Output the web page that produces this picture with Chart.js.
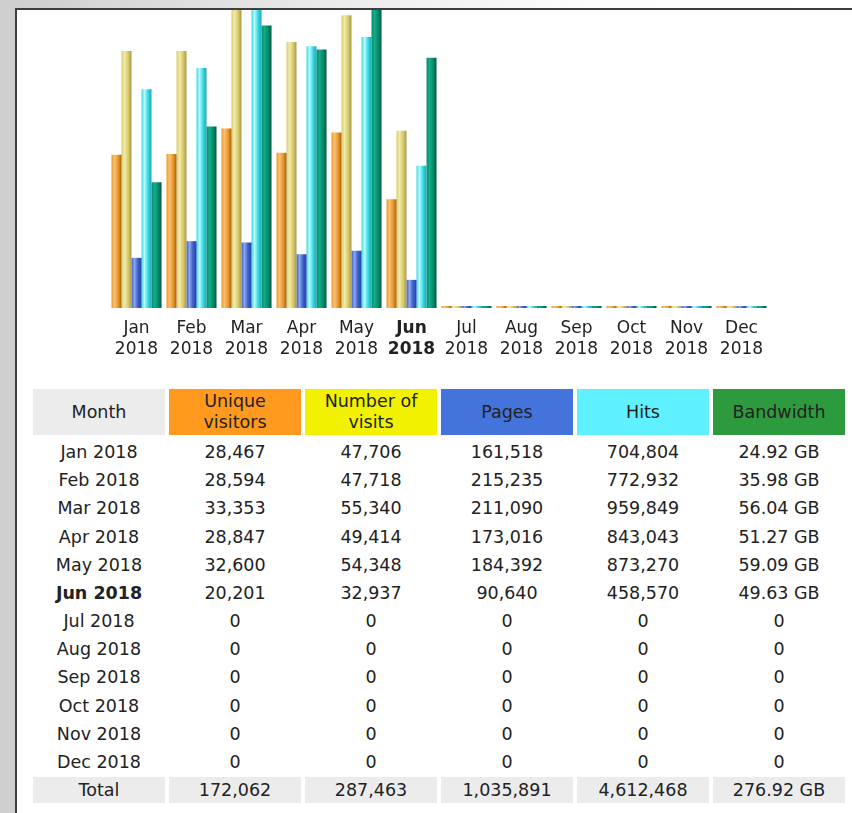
<!DOCTYPE html>
<html>
<head>
<meta charset="utf-8">
<script src="https://cdn.jsdelivr.net/npm/chart.js@4/dist/chart.umd.min.js"></script>
<style>
  html,body{margin:0;padding:0;background:#fff;}
  body{width:852px;height:813px;position:relative;overflow:hidden;font-family:'DejaVu Sans',sans-serif;}
  #topstrip{position:absolute;left:0;top:0;width:852px;height:8px;background:linear-gradient(to right,#cdcdcd,#ececec 40%,#fdfdfd 70%,#fff);}
  #leftstrip{position:absolute;left:0;top:0;width:15px;height:813px;background:#cfcfcf;}
  #frame{position:absolute;left:15px;top:8px;right:0;bottom:0;border-top:2px solid #3e3e3e;border-left:2px solid #3e3e3e;background:#fff;}
  #wrap{position:absolute;left:0;top:10px;width:852px;height:352px;}
  table{position:absolute;left:29px;top:389px;border-collapse:separate;border-spacing:4px 0;font-size:17.5px;color:#222;}
  th,td{width:132px;padding:0;text-align:center;font-weight:normal;white-space:nowrap;}
  thead th{height:46px;line-height:21px;}
  tbody td{height:28.18px;line-height:20px;}
  tr.sp td{height:3px;font-size:0;line-height:0;}
  tr.sp1 td{height:1px;font-size:0;line-height:0;}
  tr.tot td{height:26px;background:#ececec;}
</style>
</head>
<body>
<div id="topstrip"></div>
<div id="leftstrip"></div>
<div id="frame"></div>
<div id="wrap"><canvas id="chart"></canvas></div>
<table id="stats">
  <thead><tr>
    <th style="background:#ececec">Month</th>
    <th style="background:#ff9a1f">Unique<br>visitors</th>
    <th style="background:#f2f200">Number of<br>visits</th>
    <th style="background:#4473dc">Pages</th>
    <th style="background:#5ff1ff">Hits</th>
    <th style="background:#2e9a3e">Bandwidth</th>
  </tr></thead>
  <tbody id="rows"></tbody>
</table>
<script>
const months=['Jan','Feb','Mar','Apr','May','Jun','Jul','Aug','Sep','Oct','Nov','Dec']
const year='2018'
const currentMonth=5
const visitors=[28467,28594,33353,28847,32600,20201,0,0,0,0,0,0]
const visits=[47706,47718,55340,49414,54348,32937,0,0,0,0,0,0]
const pages=[161518,215235,211090,173016,184392,90640,0,0,0,0,0,0]
const hits=[704804,772932,959849,843043,873270,458570,0,0,0,0,0,0]
const bandwidth=[24.92,35.98,56.04,51.27,59.09,49.63,0,0,0,0,0,0]
const totals=['172,062','287,463','1,035,891','4,612,468','276.92 GB']

// light / base / dark tones for the shaded bars
const shades={
  visitors:['#f8c070','#eb9a2c','#a8620e'],
  visits:['#f2eaa8','#d9cc6e','#a89a46'],
  pages:['#8aa6f0','#3d5fca','#2442a8'],
  hits:['#b4fcff','#3ad8e2','#1ea8b2'],
  bandwidth:['#16aa8a','#008f6c','#005a3e']
}

const fmt=n=>n.toLocaleString('en-US')

const shading={
  id:'shading',
  beforeDatasetsDraw(chart){
    const ctx=chart.ctx
    chart.data.datasets.forEach((ds,i)=>{
      const meta=chart.getDatasetMeta(i)
      const s=shades[ds.key]
      meta.data.forEach(bar=>{
        const l=bar.x-bar.width/2, r=bar.x+bar.width/2
        const g=ctx.createLinearGradient(l,0,r,0)
        g.addColorStop(0,s[1])
        g.addColorStop(0.3,s[0])
        g.addColorStop(0.65,s[1])
        g.addColorStop(1,s[2])
        bar.options.backgroundColor=g
      })
    })
  }
}

function ds(key,label,data,axis){
  return {key,label,data,yAxisID:axis,backgroundColor:()=>shades[key][1],borderWidth:0,minBarLength:2}
}

new Chart(document.getElementById('chart'),{
  type:'bar',
  data:{
    labels:months.map(m=>[m,year]),
    datasets:[
      ds('visitors','Unique visitors',visitors,'yv'),
      ds('visits','Number of visits',visits,'yv'),
      ds('pages','Pages',pages,'yh'),
      ds('hits','Hits',hits,'yh'),
      ds('bandwidth','Bandwidth',bandwidth,'yk')
    ]
  },
  options:{
    responsive:true,
    maintainAspectRatio:false,
    animation:false,
    datasets:{bar:{categoryPercentage:0.91,barPercentage:1}},
    layout:{padding:{left:109,right:83,top:0,bottom:0}},
    plugins:{legend:{display:false},tooltip:{enabled:false}},
    scales:{
      x:{
        grid:{display:false,drawTicks:false},
        border:{display:false},
        afterFit:s=>{s.height=54},
        ticks:{
          padding:10,
          color:'#222',
          maxRotation:0,
          autoSkip:false,
          font:c=>({family:'DejaVu Sans',size:17,lineHeight:1.25,weight:c.index===currentMonth?'bold':'normal'})
        }
      },
      yv:{display:false,min:0,max:Math.max(...visits)},
      yh:{display:false,min:0,max:Math.max(...hits)},
      yk:{display:false,min:0,max:Math.max(...bandwidth)}
    }
  },
  plugins:[shading]
})

const tbody=document.getElementById('rows')
let html='<tr class="sp"><td colspan="6"></td></tr>'
months.forEach((m,i)=>{
  const b=i===currentMonth?' style="font-weight:bold"':''
  html+=`<tr><td${b}>${m} ${year}</td><td>${fmt(visitors[i])}</td><td>${fmt(visits[i])}</td><td>${fmt(pages[i])}</td><td>${fmt(hits[i])}</td><td>${bandwidth[i]?bandwidth[i].toFixed(2)+' GB':'0'}</td></tr>`
})
html+='<tr class="sp1"><td colspan="6"></td></tr>'
html+='<tr class="tot"><td>Total</td>'+totals.map(t=>`<td>${t}</td>`).join('')+'</tr>'
tbody.innerHTML=html
</script>
</body>
</html>
